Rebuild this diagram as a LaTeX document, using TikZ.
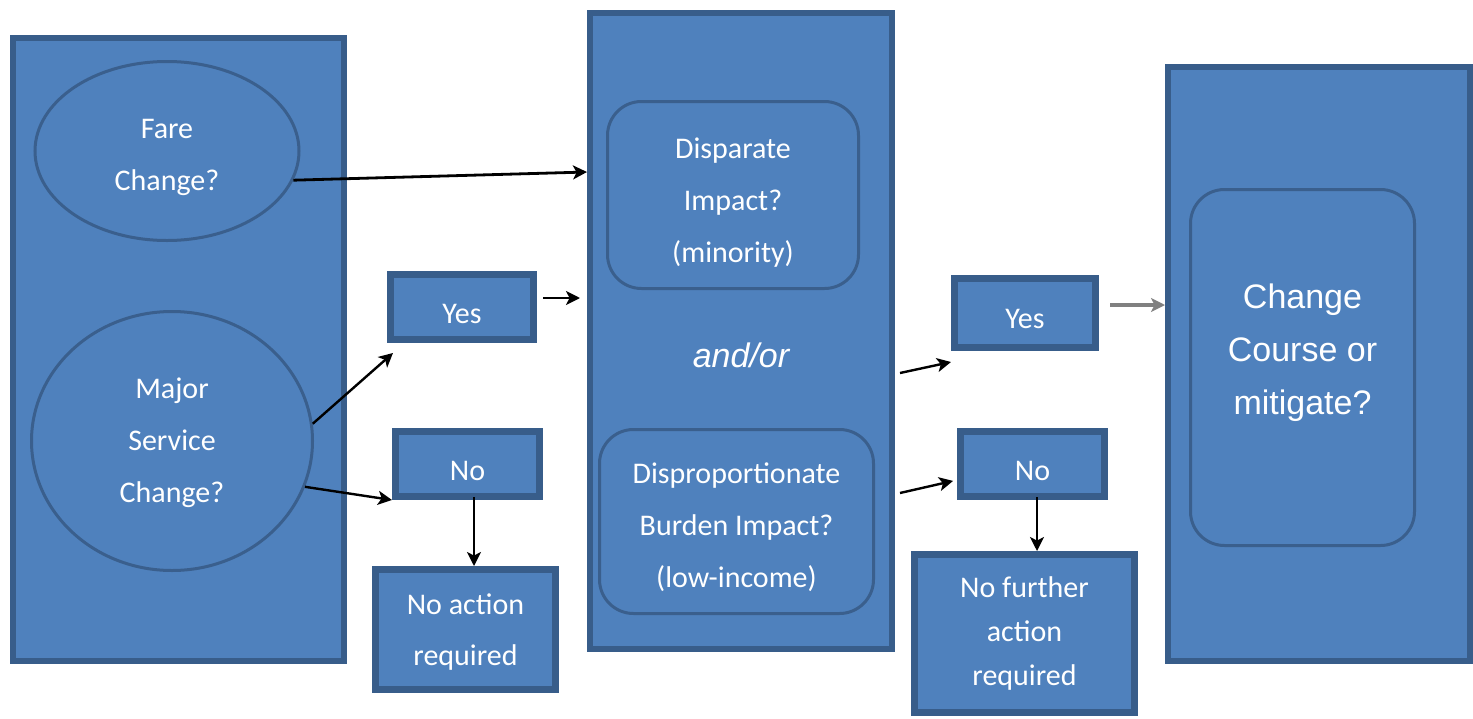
\documentclass[tikz,border=0pt]{standalone}
\usepackage{fontspec}
\setmainfont{Carlito}
\newfontfamily\arialf{Liberation Sans}
\usetikzlibrary{arrows.meta,shapes.geometric}
\definecolor{fillb}{HTML}{4F81BD}
\definecolor{edgeb}{HTML}{385D8A}
\definecolor{inedge}{HTML}{3A5F8D}
\definecolor{greyline}{HTML}{808080}
\newcommand{\topstrut}[1]{\rule{0pt}{#1}}
\begin{document}
\begin{tikzpicture}[x=0.5pt,y=-0.5pt,
  bigbox/.style={rectangle, draw=edgeb, fill=fillb, line width=3pt, inner sep=0pt},
  ansbox/.style={rectangle, draw=edgeb, fill=fillb, line width=3.5pt, inner sep=0pt,
    text=white, align=center, font=\fontsize{15}{25.5}\selectfont},
  qell/.style={ellipse, draw=inedge, fill=fillb, line width=1.5pt, inner sep=0pt,
    text=white, align=center, font=\fontsize{15}{26}\selectfont},
  rbox/.style={rectangle, rounded corners=17pt, draw=inedge, fill=fillb, line width=1.5pt,
    inner sep=0pt, text=white, align=center, font=\fontsize{15}{26}\selectfont},
  arr/.style={-{Stealth[length=7pt,width=7pt,inset=1.8pt]}, line width=1.2pt, black}
]
\useasboundingbox (0,0) rectangle (1473,718);
% big containers
\node[bigbox, minimum width=165.5pt, minimum height=311.5pt] (left) at (178.5,349.5) {};
\node[bigbox, minimum width=151pt, minimum height=318pt] (mid) at (741,331) {};
\node[bigbox, minimum width=151pt, minimum height=297pt] (right) at (1319,364) {};
% left questions
\node[qell, minimum width=132pt, minimum height=89.5pt, text depth=0pt] (fare) at (167,151) {\topstrut{13.7pt}Fare\\Change?};
\node[qell, minimum width=140.5pt, minimum height=129.5pt, text depth=1pt] (major) at (172,441) {Major\\Service\\Change?};
% answers 1
\node[ansbox, minimum width=71.5pt, minimum height=32.5pt, text height=16.7pt] (yes1) at (462,307) {Yes};
\node[ansbox, minimum width=72pt, minimum height=32.5pt, text height=16.7pt] (no1) at (467.5,464) {No};
\node[ansbox, minimum width=90pt, minimum height=60pt, text depth=0pt] (noact) at (465.5,629.5) {No action\\required};
% middle
\node[rbox, minimum width=125.5pt, minimum height=93.5pt, text depth=0pt] (disp) at (733,195) {\topstrut{15.7pt}Disparate\\Impact?\\(minority)};
\node[text=white, font=\arialf\itshape\fontsize{17}{20}\selectfont] (andor) at (741,355) {and/or};
\node[rbox, minimum width=137pt, minimum height=92pt, text depth=0pt] (dispro) at (736.5,521.5) {\topstrut{14.2pt}Disproportionate\\Burden Impact?\\(low-income)};
% answers 2
\node[ansbox, minimum width=70.5pt, minimum height=34.5pt, text height=15.7pt] (yes2) at (1025,313) {Yes};
\node[ansbox, minimum width=72pt, minimum height=32.5pt, text height=16.7pt] (no2) at (1032.5,464) {No};
\node[ansbox, minimum width=110pt, minimum height=79pt, font=\fontsize{15}{22}\selectfont] (nofur) at (1024.5,633.5) {No further\\action\\required};
% right
\node[rbox, minimum width=112pt, minimum height=178pt] (chg) at (1302.5,367.5) {};
\node[text=white, align=center, font=\arialf\fontsize{17}{26.5}\selectfont] (chgtxt) at (1302.5,353) {Change\\Course or\\mitigate?};
% connectors
\draw[arr, line width=1.4pt] (fare.-13.5) -- ([yshift=79.5pt]mid.west);
\draw[arr, shorten <=3pt, shorten >=3.5pt] ([yshift=4.5pt]yes1.east) -- ([yshift=4.5pt]yes1.east -| mid.west);
\draw[arr] (major.7) -- ([xshift=3pt,yshift=-5pt]yes1.south west);
\draw[arr] (major.-19.7) -- (no1.south west);
\draw[arr] ([xshift=3.25pt,yshift=1.5pt]no1.south) -- ([xshift=3.25pt]no1.south |- noact.north);
\draw[arr] ([xshift=2.5pt,yshift=-21pt]mid.east) -- ([yshift=-5.5pt]yes2.south west);
\draw[arr, shorten >=2pt] ([xshift=2.5pt,yshift=-81pt]mid.east) -- ([yshift=-8pt]no2.west);
\draw[arr] ([xshift=2.25pt,yshift=1.5pt]no2.south) -- ([xshift=2.25pt]no2.south |- nofur.north);
\draw[-{Stealth[length=7pt,width=7pt,inset=1.8pt]}, line width=2pt, greyline, shorten <=5.5pt]
  ([yshift=4pt]yes2.east) -- ([yshift=4pt]yes2.east -| right.west);
\end{tikzpicture}
\end{document}
